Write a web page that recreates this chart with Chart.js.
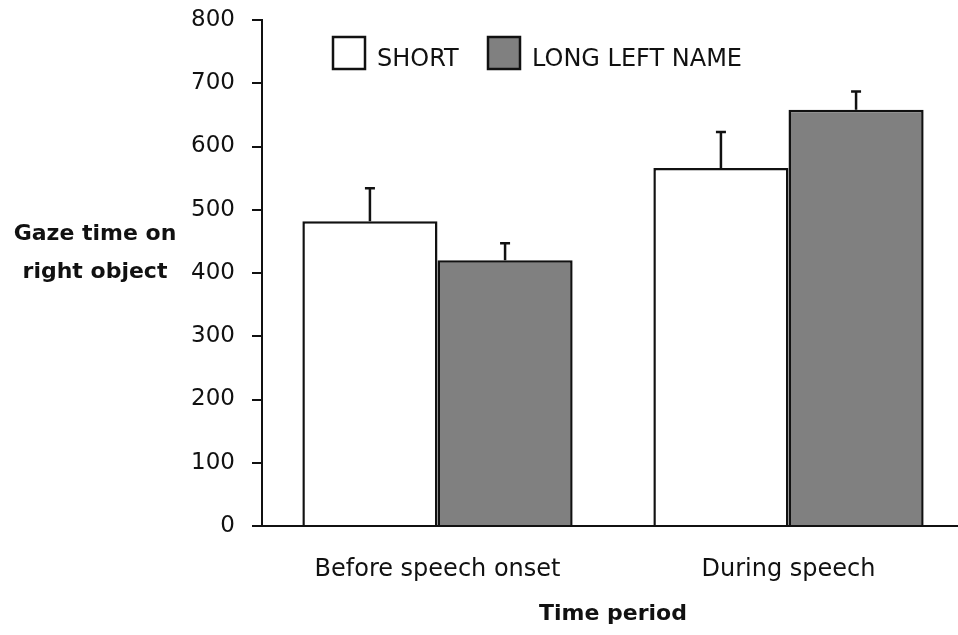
<!DOCTYPE html>
<html>
<head>
<meta charset="utf-8">
<script src="https://cdn.jsdelivr.net/npm/chart.js@4/dist/chart.umd.min.js"></script>
<style>
  html, body { margin: 0; padding: 0; background: #fff; overflow: hidden; }
  #wrap { width: 966px; height: 635px; position: relative; }
</style>
</head>
<body>
<div id="wrap"><canvas id="c" width="966" height="635"></canvas></div>
<script>
const categories = ['Before speech onset', 'During speech'];
const seriesNames = ['SHORT', 'LONG LEFT NAME'];
const shortValues = [482, 566];
const longValues = [420, 658];
const shortErrors = [52, 57];
const longErrors = [27, 29];
const yTicks = [0, 100, 200, 300, 400, 500, 600, 700, 800];
const yTitleLines = ['Gaze time on', 'right object'];
const xTitle = 'Time period';

const FONT = '"DejaVu Sans", sans-serif';
const INK = '#111111';

const errorBarPlugin = {
  id: 'errorBars',
  afterDatasetsDraw(chart) {
    const ctx = chart.ctx;
    const y = chart.scales.y;
    const errs = [shortErrors, longErrors];
    chart.data.datasets.forEach((ds, di) => {
      const meta = chart.getDatasetMeta(di);
      meta.data.forEach((bar, i) => {
        const top = y.getPixelForValue(ds.data[i] + errs[di][i]);
        const base = y.getPixelForValue(ds.data[i]);
        ctx.save();
        ctx.strokeStyle = INK;
        ctx.lineWidth = 2.5;
        ctx.beginPath();
        ctx.moveTo(bar.x, base);
        ctx.lineTo(bar.x, top);
        ctx.moveTo(bar.x - 5, top);
        ctx.lineTo(bar.x + 5, top);
        ctx.stroke();
        ctx.restore();
      });
    });
  }
};

const textPlugin = {
  id: 'extraText',
  afterDraw(chart) {
    const ctx = chart.ctx;
    ctx.save();
    ctx.fillStyle = INK;
    ctx.font = 'bold 22px ' + FONT;
    ctx.textAlign = 'center';
    ctx.textBaseline = 'alphabetic';
    ctx.fillText(yTitleLines[0], 95, 240);
    ctx.fillText(yTitleLines[1], 95, 278);
    const fills = ['#ffffff', '#808080'];
    const boxX = [333, 488];
    ctx.font = '24px ' + FONT;
    ctx.textAlign = 'left';
    seriesNames.forEach((n, i) => {
      ctx.fillStyle = fills[i];
      ctx.fillRect(boxX[i], 37, 32, 32);
      ctx.strokeStyle = INK;
      ctx.lineWidth = 2.5;
      ctx.strokeRect(boxX[i], 37, 32, 32);
      ctx.fillStyle = INK;
      ctx.fillText(n, boxX[i] + 44, 66);
    });
    ctx.restore();
  }
};

new Chart(document.getElementById('c'), {
  type: 'bar',
  data: {
    labels: categories,
    datasets: [
      { label: seriesNames[0], data: shortValues, backgroundColor: '#ffffff', borderColor: INK, borderWidth: 2.5, borderSkipped: 'bottom' },
      { label: seriesNames[1], data: longValues, backgroundColor: '#808080', borderColor: INK, borderWidth: 2.5, borderSkipped: 'bottom' }
    ]
  },
  options: {
    responsive: false,
    animation: false,
    layout: { padding: { top: 20, right: 2, left: 0, bottom: 0 } },
    plugins: { legend: { display: false }, tooltip: { enabled: false } },
    datasets: { bar: { categoryPercentage: 0.77, barPercentage: 1.0 } },
    scales: {
      x: {
        offset: true,
        grid: { display: false, drawTicks: false },
        border: { display: true, color: INK, width: 2 },
        ticks: { color: INK, font: { family: FONT, size: 24 }, padding: 29 },
        title: { display: true, text: xTitle, color: INK, font: { family: FONT, size: 22, weight: 'bold' }, padding: { top: 10, bottom: 8 } },
        afterFit(scale) { scale.height = 109; scale.paddingLeft = 0; scale.paddingRight = 0; }
      },
      y: {
        min: 0, max: 800,
        afterBuildTicks(scale) { scale.ticks = yTicks.map(v => ({ value: v })); },
        grid: { drawOnChartArea: false, drawTicks: true, tickLength: 10, color: INK, lineWidth: 2 },
        border: { display: true, color: INK, width: 2 },
        ticks: { color: INK, font: { family: FONT, size: 23 }, padding: 17 },
        afterFit(scale) { scale.width = 262; scale.paddingTop = 0; scale.paddingBottom = 0; }
      }
    }
  },
  plugins: [errorBarPlugin, textPlugin]
});
</script>
</body>
</html>
